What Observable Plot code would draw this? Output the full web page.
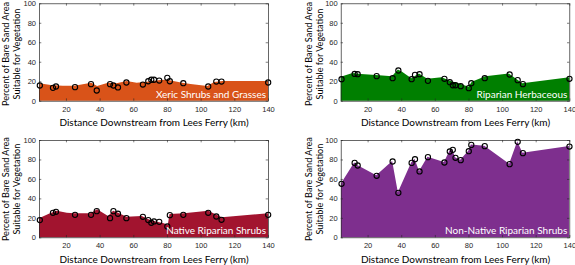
<!DOCTYPE html>
<html><head><meta charset="utf-8">
<script src="https://cdn.jsdelivr.net/npm/d3@7"></script>
<script src="https://cdn.jsdelivr.net/npm/@observablehq/plot@0.6"></script>
<style>
body{margin:0;background:#fff}
#fig{position:relative;width:575px;height:265px;overflow:hidden;background:#fff}
.panel{position:absolute}
</style></head><body><div id="fig"></div>
<script>
// Sample sites, distance downstream from Lees Ferry (km)
const sites = [4.2, 12, 13.8, 25.1, 34.6, 38, 45.9, 47.9, 50.6, 55.6, 65.4, 68.6, 70.4, 72, 75.1, 79.9, 81.4, 89.4, 104.2, 109, 112.1, 139.8];

// Site values (%) per vegetation type
const xericPts    = [16.1, 13.7, 15.1, 14.4, 17.5, 11, 17.5, 16.1, 14.1, 19.2, 17.1, 20.5, 22, 22, 21.2, 24, 20.5, 18.5, 15.1, 20.2, 20.2, 19.2];
const herbPts     = [22.6, 28, 27.7, 25.7, 23.6, 31.5, 22.6, 27, 27.7, 20.9, 23, 19.5, 16.4, 16.4, 15.4, 13.4, 18.5, 23.6, 27.4, 21.6, 17.5, 23];
const nativePts   = [18.2, 25.7, 26.7, 23.6, 23.6, 27.4, 20.2, 27.4, 24.7, 20.2, 21.6, 18.2, 15.4, 16.8, 16.4, 11.6, 23.3, 23.6, 25.7, 21.9, 18.5, 23.6];
const nonNativePts= [55.5, 77, 74.3, 63.7, 78.4, 46.2, 77, 80.8, 68.2, 82.9, 77.4, 88.7, 90.4, 82.2, 79.8, 89, 95.5, 94.2, 75.7, 98.6, 87, 93.8];

// Shaded area outlines
const xericAreaX = [4, 11, 18, 25, 30, 35, 38.5, 45, 50, 56, 62, 68, 76, 80, 89, 94, 104, 108, 113, 140];
const xericAreaY = [18, 16, 15.3, 15.3, 16.8, 18.5, 15, 18.5, 17.8, 20.2, 18.5, 19.5, 21.2, 21.5, 18.5, 17.1, 15.1, 19.2, 20.2, 20.2];
const herbAreaX = [4, 11, 16, 25, 34.5, 38, 40.5, 46, 50.5, 55.5, 64, 69, 75, 80, 82, 90, 104, 112, 140];
const herbAreaY = [24.5, 28.5, 27.5, 26.4, 25, 32, 29.8, 23, 28, 22.5, 24, 20.5, 17.5, 14.4, 19.5, 25, 28, 17.8, 24];
const nativeAreaX = [4, 10.5, 14.5, 20.5, 25, 34.5, 38.5, 45, 48, 51, 56, 65, 69, 74, 78, 80.5, 81.5, 90, 104.5, 112.5, 140];
const nativeAreaY = [19.5, 24.7, 27.4, 25.3, 24.7, 24.7, 28.8, 21.9, 27.4, 25.3, 21.2, 21.9, 18.5, 16, 14.4, 13, 24, 24.7, 27.4, 20.5, 24.7];
const nonNativeAreaX = sites;
const nonNativeAreaY = nonNativePts;

const xTicks = [20, 40, 60, 80, 100, 120, 140];
const yTicks = [0, 20, 40, 60, 80, 100];
const xDomain = [4, 140];
const yLabel = "Percent of Bare Sand Area\nSuitable for Vegetation";
const xLabel = "Distance Downstream from Lees Ferry (km)";

const panels = [
  {name: "Xeric Shrubs and Grasses", pts: xericPts, ax: xericAreaX, ay: xericAreaY, color: "#d95319",
   left: 0, top: 0, width: 287, height: 132, m: [3.3, 19, 31.3, 39], ydx: -28.5, ydy: 1.5, ldy: -6.7},
  {name: "Riparian Herbaceous", pts: herbPts, ax: herbAreaX, ay: herbAreaY, color: "#007f00",
   left: 287, top: 0, width: 288, height: 132, m: [3.3, 5.7, 31.3, 53.7], ydx: -26.8, ydy: 1.5, ldy: -6.7},
  {name: "Native Riparian Shrubs", pts: nativePts, ax: nativeAreaX, ay: nativeAreaY, color: "#a2142f",
   left: 0, top: 132, width: 287, height: 133, m: [8, 19, 27.7, 39], ydx: -28.5, ydy: 0, ldy: -7.3},
  {name: "Non-Native Riparian Shrubs", pts: nonNativePts, ax: nonNativeAreaX, ay: nonNativeAreaY, color: "#7e2f8e",
   left: 287, top: 132, width: 288, height: 133, m: [8, 5.7, 27.7, 53.7], ydx: -26.8, ydy: 0, ldy: -7.3}
];

const fig = document.getElementById("fig");
const labelFont = "Lato, 'Open Sans', sans-serif";
const tickFont = "'Liberation Sans', Arial, sans-serif";
const ink = "#262626";
const tx = 2.3 * (xDomain[1] - xDomain[0]) / 229; // inward tick length in x units
const ty = 2.4;

for (const p of panels) {
  const pts = sites.map((x, i) => ({x, y: p.pts[i]}));
  const area = p.ax.map((x, i) => ({x, y: p.ay[i]}));
  const chart = Plot.plot({
    width: p.width, height: p.height,
    marginTop: p.m[0], marginRight: p.m[1], marginBottom: p.m[2], marginLeft: p.m[3],
    style: {background: "transparent", overflow: "visible"},
    x: {domain: xDomain},
    y: {domain: [0, 100]},
    marks: [
      Plot.areaY(area, {x: "x", y: "y", fill: p.color}),
      Plot.ruleX(xTicks, {x: d => d, y1: 0, y2: ty, stroke: ink, strokeWidth: 0.6}),
      Plot.ruleX(xTicks, {x: d => d, y1: 100, y2: 100 - ty, stroke: ink, strokeWidth: 0.6}),
      Plot.ruleY(yTicks, {y: d => d, x1: xDomain[0], x2: xDomain[0] + tx, stroke: ink, strokeWidth: 0.6}),
      Plot.ruleY(yTicks, {y: d => d, x1: xDomain[1], x2: xDomain[1] - tx, stroke: ink, strokeWidth: 0.6}),
      Plot.frame({stroke: ink, strokeWidth: 0.7}),
      Plot.dot(pts, {x: "x", y: "y", r: 2.6, stroke: "black", strokeWidth: 1.1, fill: "none"}),
      Plot.axisX({ticks: xTicks, tickSize: 0, tickPadding: 5, label: null, fontSize: 7.5, fontFamily: tickFont, fill: ink}),
      Plot.axisY({ticks: yTicks, tickSize: 0, tickPadding: 3.5, label: null, fontSize: 7.5, fontFamily: tickFont, fill: ink}),
      Plot.text([p.name], {frameAnchor: "bottom-right", textAnchor: "end", lineAnchor: "middle", dx: -2.5, dy: p.ldy,
        fill: "white", fontSize: 10, fontFamily: labelFont}),
      Plot.text([xLabel], {frameAnchor: "bottom", lineAnchor: "middle", dy: 22, fill: "black", fontSize: 10, fontFamily: labelFont}),
      Plot.text([yLabel], {frameAnchor: "left", rotate: -90, lineAnchor: "middle", textAnchor: "middle", dx: p.ydx, dy: p.ydy,
        lineHeight: 1.18, fill: "black", fontSize: 9.1, fontFamily: labelFont})
    ]
  });
  chart.classList.add("panel");
  chart.style.left = p.left + "px";
  chart.style.top = p.top + "px";
  fig.appendChild(chart);
}
</script></body></html>
